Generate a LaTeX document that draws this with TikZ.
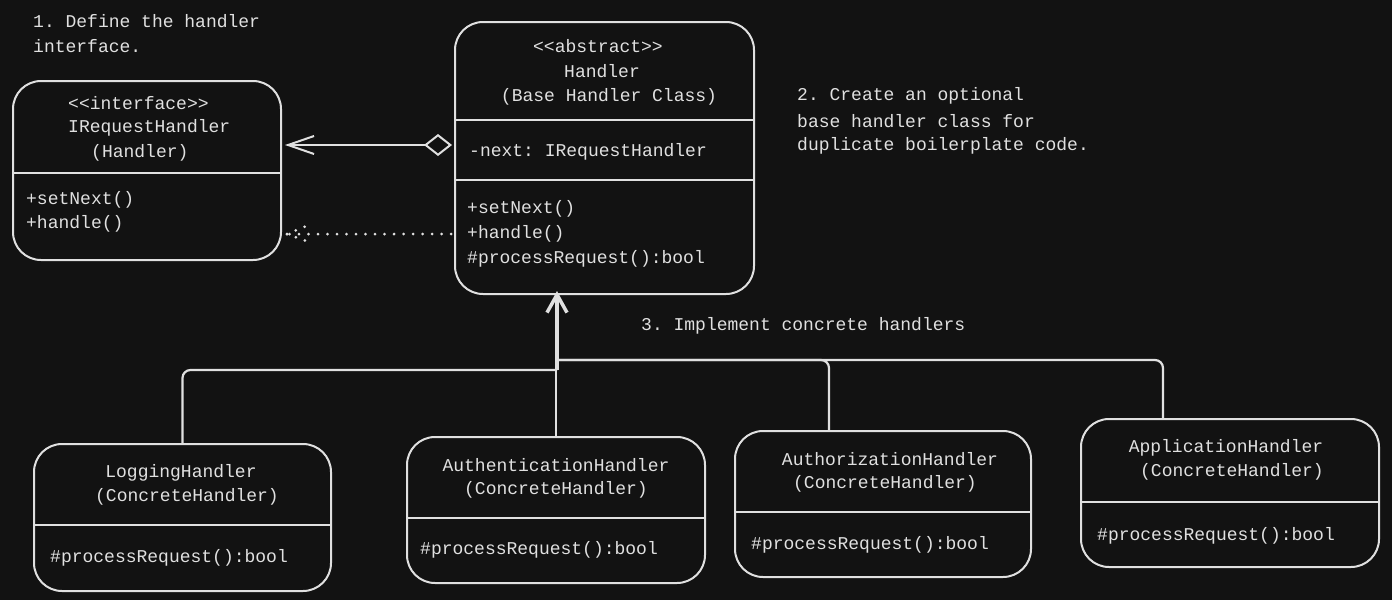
\documentclass[tikz,border=0pt]{standalone}
\usepackage{fontspec}
\setmonofont{Liberation Mono}
\usetikzlibrary{arrows.meta}
\definecolor{bg}{HTML}{121212}
\definecolor{ink}{HTML}{E0E0E0}
\begin{document}
\begin{tikzpicture}[x=1pt,y=-1pt,
  box/.style={draw=ink, line width=2pt, rounded corners=28pt, anchor=north west, inner sep=0pt},
  txt/.style={text=ink, font=\ttfamily\fontsize{18}{22}\selectfont, inner sep=0pt},
  ltxt/.style={txt, anchor=west},
  sep/.style={draw=ink, line width=2pt},
  conn/.style={draw=ink, line width=2pt},
  dots/.style={draw=ink, line width=3pt, line cap=round, dash pattern=on 0pt off 9.5pt},
  tree/.style={draw=ink, line width=2.2pt, rounded corners=8pt}]
\fill[bg] (0,0) rectangle (1392,600);
\useasboundingbox (0,0) rectangle (1392,600);

% notes
\node[ltxt] (n1a) at (33,21) {1. Define the handler};
\node[ltxt] (n1b) at (33,46) {interface.};
\node[ltxt] (n2a) at (797,96) {2. Create an optional};
\node[ltxt] (n2b) at (797,121) {base handler class for};
\node[ltxt] (n2c) at (797,146) {duplicate boilerplate code.};
\node[ltxt] (n3) at (641,326) {3. Implement concrete handlers};

% interface box
\node[box, minimum width=268pt, minimum height=179pt] (iface) at (12,80) {};
\draw[sep] (iface.west |- 0,173) -- (iface.east |- 0,173);
\node[ltxt] (i1) at (68,103) {{<}{<}interface{>}{>}};
\node[ltxt] (i2) at (68,128) {IRequestHandler};
\node[ltxt] (i3) at (91,153) {(Handler)};
\node[ltxt] (i4) at (26,200) {+setNext()};
\node[ltxt] (i5) at (26,224) {+handle()};

% abstract handler box
\node[box, minimum width=299pt, minimum height=272pt] (handler) at (454,21) {};
\draw[sep] (handler.west |- 0,120) -- (handler.east |- 0,120);
\draw[sep] (handler.west |- 0,180) -- (handler.east |- 0,180);
\node[txt] (h1) at (598,46) {{<}{<}abstract{>}{>}};
\node[txt] (h2) at (602,71) {Handler};
\node[txt] (h3) at (609,97) {(Base Handler Class)};
\node[ltxt] (h4) at (469,152) {-next: IRequestHandler};
\node[ltxt] (h5) at (467,209) {+setNext()};
\node[ltxt] (h6) at (467,234) {+handle()};
\node[ltxt] (h7) at (467,259) {\#processRequest():bool};

% concrete handlers
\node[box, minimum width=297pt, minimum height=147pt] (log) at (33,443) {};
\draw[sep] (log.west |- 0,525) -- (log.east |- 0,525);
\node[txt] (l1) at (181,473) {LoggingHandler};
\node[txt] (l2) at (187,497) {(ConcreteHandler)};
\node[ltxt] (l3) at (50,558) {\#processRequest():bool};

\node[box, minimum width=298pt, minimum height=146pt] (auth) at (406,436) {};
\draw[sep] (auth.west |- 0,518) -- (auth.east |- 0,518);
\node[txt] (a1) at (556,465) {AuthenticationHandler};
\node[txt] (a2) at (556,490) {(ConcreteHandler)};
\node[ltxt] (a3) at (420,550) {\#processRequest():bool};

\node[box, minimum width=296pt, minimum height=146pt] (authz) at (734,430) {};
\draw[sep] (authz.west |- 0,512) -- (authz.east |- 0,512);
\node[txt] (z1) at (890,459) {AuthorizationHandler};
\node[txt] (z2) at (885,484) {(ConcreteHandler)};
\node[ltxt] (z3) at (751,545) {\#processRequest():bool};

\node[box, minimum width=298pt, minimum height=148pt] (app) at (1080,418) {};
\draw[sep] (app.west |- 0,502) -- (app.east |- 0,502);
\node[txt] (p1) at (1226,448) {ApplicationHandler};
\node[txt] (p2) at (1232,472) {(ConcreteHandler)};
\node[ltxt] (p3) at (1097,536) {\#processRequest():bool};

% connectors
\draw[conn, shorten <=2pt, shorten >=3pt,
  {Diamond[open, length=28pt, width=22pt]}-{Straight Barb[length=26pt, width=18pt]}]
  (handler.west |- 0,145) -- (iface.east |- 0,145);

\coordinate (dtip) at ([xshift=5pt]iface.east |- 0,234);
\draw[dots] ([xshift=-3pt]handler.west |- 0,234) -- (dtip);
\draw[dots] (dtip) -- ++(22,-9);
\draw[dots] (dtip) -- ++(22,8);

\coordinate (jl) at (557,370);
\coordinate (jr) at (557,360);
\draw[tree] (log.north) |- (jl);
\draw[tree] (auth.north) -- (auth.north |- jl);
\draw[tree] ([xshift=-54pt]authz.north) |- (jr);
\draw[tree] ([xshift=-67pt]app.north) |- (jr);
\draw[conn, line width=3.5pt, shorten >=-4pt,
  -{Straight Barb[length=18pt, width=20pt, line width=3.5pt]}]
  (jl) -- (handler.south -| jl);
\end{tikzpicture}
\end{document}
